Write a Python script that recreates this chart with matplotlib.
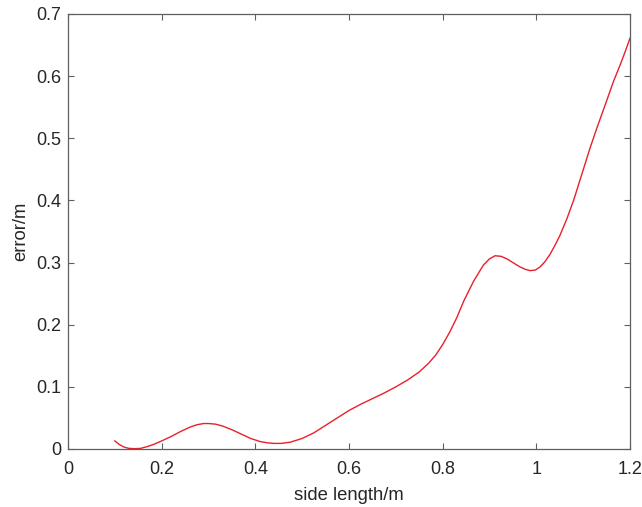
import numpy as np
import matplotlib.pyplot as plt

plt.rcParams['font.family'] = ['Liberation Sans', 'DejaVu Sans']

# values
side_length = [0.100, 0.110, 0.120, 0.130, 0.143, 0.155, 0.170, 0.185, 0.200, 0.220,
               0.240, 0.260, 0.275, 0.290, 0.300, 0.315, 0.330, 0.350, 0.370, 0.390,
               0.410, 0.425, 0.440, 0.455, 0.475, 0.500, 0.525, 0.550, 0.575, 0.600,
               0.625, 0.650, 0.675, 0.700, 0.725, 0.750, 0.770, 0.785, 0.800, 0.815,
               0.830, 0.845, 0.866, 0.887, 0.900, 0.912, 0.925, 0.937, 0.950, 0.965,
               0.977, 0.987, 0.998, 1.008, 1.018, 1.029, 1.040, 1.050, 1.065, 1.080,
               1.100, 1.115, 1.130, 1.150, 1.165, 1.180, 1.190, 1.200]
error = [0.013, 0.007, 0.003, 0.001, 0.0005, 0.001, 0.004, 0.008, 0.013, 0.020,
         0.028, 0.035, 0.039, 0.041, 0.041, 0.040, 0.037, 0.031, 0.024, 0.017,
         0.012, 0.010, 0.009, 0.009, 0.011, 0.017, 0.026, 0.038, 0.050, 0.062,
         0.072, 0.081, 0.090, 0.100, 0.111, 0.124, 0.138, 0.151, 0.168, 0.188,
         0.211, 0.238, 0.270, 0.296, 0.306, 0.311, 0.310, 0.306, 0.300, 0.293,
         0.289, 0.287, 0.288, 0.293, 0.301, 0.313, 0.328, 0.343, 0.370, 0.401,
         0.449, 0.485, 0.518, 0.560, 0.592, 0.620, 0.640, 0.661]

xticks = [0, 0.2, 0.4, 0.6, 0.8, 1, 1.2]
xtick_labels = ['0', '0.2', '0.4', '0.6', '0.8', '1', '1.2']
yticks = [0, 0.1, 0.2, 0.3, 0.4, 0.5, 0.6, 0.7]
ytick_labels = ['0', '0.1', '0.2', '0.3', '0.4', '0.5', '0.6', '0.7']

fig = plt.figure(figsize=(6.42, 5.07), dpi=100)
ax = fig.add_axes([0.1059, 0.1144, 0.8754, 0.858])
ax.plot(side_length, error, color='#e8202a', linewidth=1.0)

ax.set_xlim(0, 1.2)
ax.set_ylim(0, 0.7)
ax.set_xticks(xticks)
ax.set_xticklabels(xtick_labels)
ax.set_yticks(yticks)
ax.set_yticklabels(ytick_labels)

for s in ax.spines.values():
    s.set_color('#5f5f5f')
    s.set_linewidth(0.9)
ax.tick_params(direction='in', top=True, right=True, length=4, width=0.8,
               color='#5f5f5f', labelcolor='#262626', labelsize=13, pad=5)
ax.tick_params(axis='x', pad=9)

ax.set_xlabel('side length/m', fontsize=13.3, color='#262626', labelpad=6)
ax.set_ylabel('error/m', fontsize=13.3, color='#262626', labelpad=5)

fig.savefig('out.png', dpi=100)
